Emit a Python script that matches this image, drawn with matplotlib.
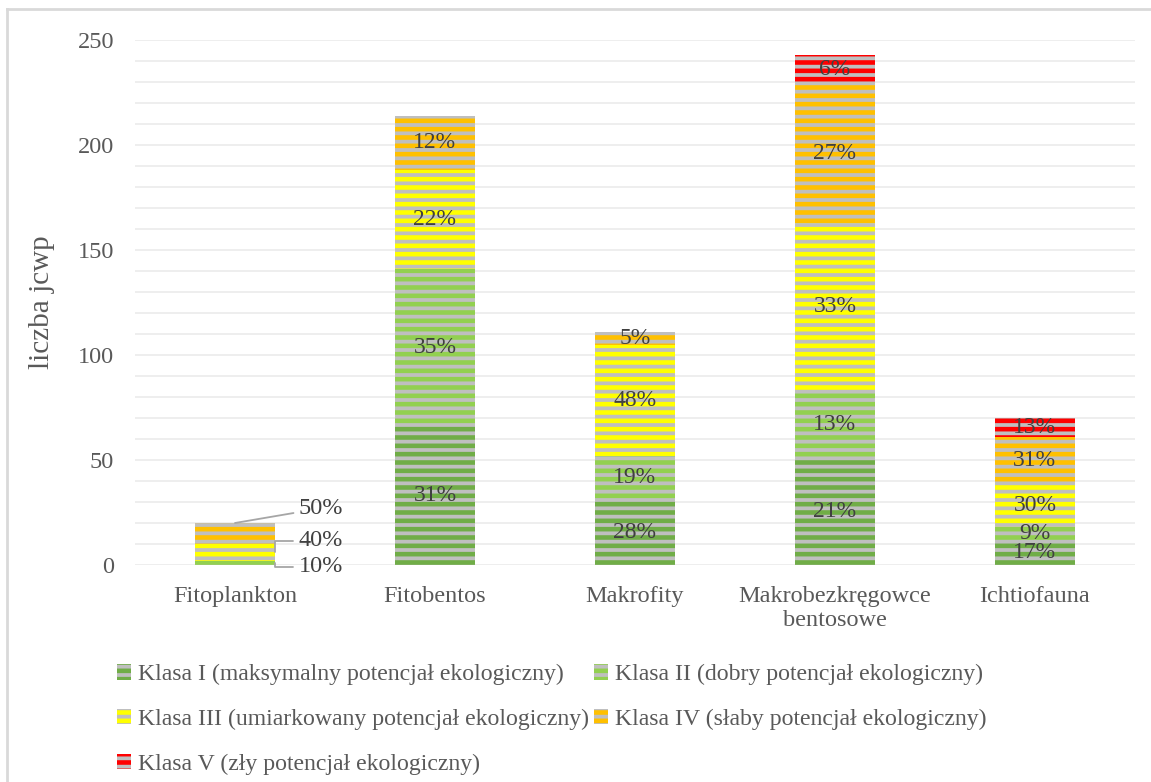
import numpy as np
import matplotlib
matplotlib.use("Agg")
import matplotlib.pyplot as plt
from matplotlib.lines import Line2D

# data
categories = ["Fitoplankton", "Fitobentos", "Makrofity",
              "Makrobezkręgowce\nbentosowe", "Ichtiofauna"]
klasa_1 = [0, 66, 31, 51, 12]
klasa_2 = [2, 75, 21, 32, 6]
klasa_3 = [8, 47, 53, 80, 21]
klasa_4 = [10, 26, 6, 66, 22]
klasa_5 = [0, 0, 0, 14, 9]
class_names = [
    "Klasa I (maksymalny potencjał ekologiczny)",
    "Klasa II (dobry potencjał ekologiczny)",
    "Klasa III (umiarkowany potencjał ekologiczny)",
    "Klasa IV (słaby potencjał ekologiczny)",
    "Klasa V (zły potencjał ekologiczny)",
]
colors = ["#70AD47", "#92D050", "#FFFF00", "#FFC000", "#FF0000"]

plt.rcParams["font.family"] = ["Liberation Serif", "DejaVu Serif"]
plt.rcParams["hatch.linewidth"] = 3.3
text_col = "#595959"
label_col = "#404040"

fig = plt.figure(figsize=(11.51, 7.82), dpi=100)
ax = fig.add_axes([0.1173, 0.2775, 0.8687, 0.6713])

series = [klasa_1, klasa_2, klasa_3, klasa_4, klasa_5]
x = np.arange(len(categories))
bottom = np.zeros(len(categories))
totals = np.sum(series, axis=0)
handles = []
for vals, col, name in zip(series, colors, class_names):
    vals = np.array(vals, dtype=float)
    bars = ax.bar(x, vals, 0.4, bottom=bottom, color="#BFBFBF", edgecolor=col,
                  hatch="--", linewidth=0, label=name, zorder=2)
    handles.append(bars)
    for i in range(len(categories)):
        if vals[i] > 0 and i > 0:
            pct = vals[i] / totals[i] * 100
            ax.text(x[i], bottom[i] + vals[i] / 2, f"{pct:.0f}%", ha="center",
                    va="center", fontsize=17, color=label_col, zorder=3)
    bottom += vals

# Fitoplankton labels outside with leader lines
fp_vals = [klasa_2[0], klasa_3[0], klasa_4[0]]
fp_base = [klasa_1[0], klasa_1[0] + klasa_2[0], klasa_1[0] + klasa_2[0] + klasa_3[0]]
fp_text_y = [-0.8, 11.5, 27]
for v, b, ty in zip(fp_vals, fp_base, fp_text_y):
    pct = v / totals[0] * 100
    if ty > 20:
        xy = (0, b + v)
    else:
        xy = (0.2, b + v / 2)
    ax.annotate(f"{pct:.0f}%", xy=xy, xytext=(0.32, ty), ha="left", va="center",
                fontsize=17.5, color=label_col,
                arrowprops=dict(arrowstyle="-", color="#A6A6A6", lw=1.3,
                                shrinkA=2, shrinkB=0,
                                connectionstyle="angle,angleA=180,angleB=90,rad=0"
                                if ty < 20 else "arc3"))

ax.set_xlim(-0.5, 4.5)
ax.set_ylim(0, 250)
ax.set_yticks(np.arange(0, 251, 50))
ax.set_yticks(np.arange(0, 251, 10), minor=True)
ax.grid(axis="y", which="both", color="#EBEBEB", lw=1.2, zorder=0)
ax.set_xticks(x)
ax.set_xticklabels(categories)
ax.tick_params(axis="both", which="both", length=0, labelsize=17.5,
               labelcolor=text_col)
ax.tick_params(axis="x", pad=15)
ax.tick_params(axis="y", pad=15)
for s in ax.spines.values():
    s.set_visible(False)
ax.set_ylabel("liczba jcwp", fontsize=21, color=text_col, labelpad=16)

order = [0, 2, 4, 1, 3]
fig.legend([handles[i] for i in order], [class_names[i] for i in order],
           ncol=2, loc="upper left", bbox_to_anchor=(0.083, 0.178),
           frameon=False, fontsize=17.1, labelcolor=text_col,
           handlelength=0.6, handleheight=0.6, handletextpad=0.3,
           columnspacing=0.2, labelspacing=1.0)

# outer frame (left and top edge)
fig.add_artist(Line2D([0.0065, 0.0065], [0, 0.989], color="#D9D9D9", lw=2))
fig.add_artist(Line2D([0.0065, 1.0], [0.989, 0.989], color="#D9D9D9", lw=2))

fig.savefig("out.png", dpi=100)
